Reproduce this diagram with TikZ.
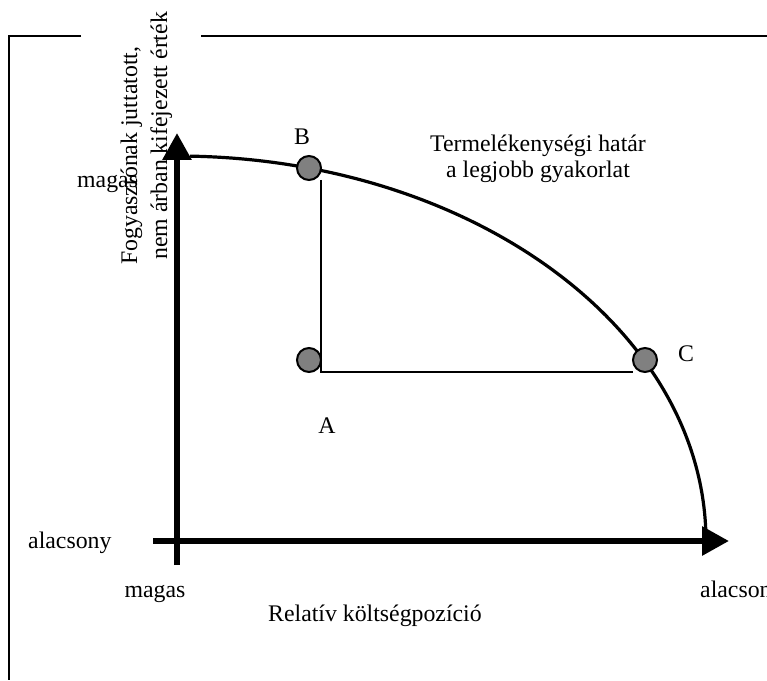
\documentclass[tikz,border=0pt]{standalone}
\usepackage{fontspec}
\setmainfont{Liberation Serif}
\usetikzlibrary{arrows.meta}
\tikzset{
  lbl/.style={inner sep=0pt, font=\fontsize{23.8}{28}\selectfont},
  frameline/.style={line width=2.2pt, black},
  axisline/.style={line width=6pt, -{Triangle[length=27pt,width=28pt]}},
  frontier/.style={line width=3.2pt},
  guide/.style={line width=2pt},
  pt/.style={circle, draw=black, line width=2pt, fill=black!50, minimum size=24pt, inner sep=0pt, outer sep=0pt}
}
\begin{document}
\begin{tikzpicture}[x=1pt,y=1pt]
\useasboundingbox (0,0) rectangle (767,680);
% frame
\coordinate (fa) at (81,644);
\coordinate (fb) at (9,644);
\coordinate (fc) at (9,0);
\coordinate (fd) at (201,644);
\coordinate (fe) at (767,644);
\draw[frameline] (fa) -- (fb) -- (fc);
\draw[frameline] (fd) -- (fe);
% axes
\coordinate (xs) at (153,139);
\coordinate (xe) at (729,139);
\coordinate (ys) at (177,115);
\coordinate (ye) at (177,547);
\draw[axisline] (xs) -- (xe);
\draw[axisline] (ys) -- (ye);
% frontier curve
\coordinate (cs) at ({177+529*cos(88.6)},{139+385*sin(88.6)});
\draw[frontier] (cs) arc[start angle=88.6, end angle=1.64, x radius=529pt, y radius=385pt];
% points
\node[pt] (B) at (309,512) {};
\node[pt] (A) at (309,320) {};
\node[pt] (C) at (645,320) {};
\coordinate (corner) at (321,308);
\draw[guide] (corner |- B.south) -- (corner) -- (C.west |- corner);
% point labels
\node[lbl, anchor=base] (lB) at (302,535) {B};
\node[lbl, anchor=base] (lA) at (327,247) {A};
\node[lbl, anchor=base] (lC) at (686,318) {C};
\node[lbl, anchor=base] (t1) at (538,528) {Termelékenységi határ};
\node[lbl, anchor=base] (t2) at (538,502) {a legjobb gyakorlat};
% axis labels
\node[lbl, anchor=base west] (ymag) at (77,492) {magas};
\node[lbl, anchor=base west] (yalc) at (28,132) {alacsony};
\node[lbl, anchor=base] (xmag) at (155,83) {magas};
\node[lbl, anchor=base west] (xalc) at (700,83) {alacsony};
\node[lbl, anchor=base west] (xtitle) at (268,59) {Relatív költségpozíció};
\node[lbl, anchor=base west, rotate=90] (yt1) at (137,415) {Fogyasztónak juttatott,};
\node[lbl, anchor=base west, rotate=90] (yt2) at (167,420) {nem árban kifejezett érték};
\end{tikzpicture}
\end{document}
